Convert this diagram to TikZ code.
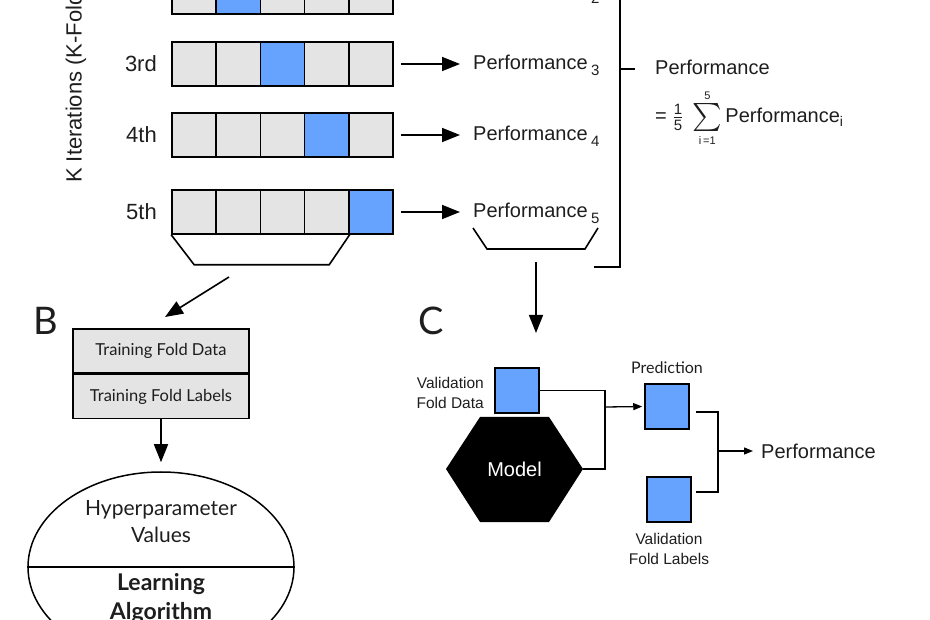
\documentclass[tikz,border=0pt]{standalone}
\usepackage{fontspec}
\usepackage{amsmath}
\setmainfont{Liberation Sans}
\newfontfamily\avenir{Lato}
\usetikzlibrary{arrows.meta,positioning,shapes.geometric}
\definecolor{foldblue}{RGB}{102,163,255}
\definecolor{foldgray}{RGB}{228,228,228}
\definecolor{ink}{RGB}{30,30,30}
\newcommand{\fracdigit}[1]{\text{\fontsize{15}{15}\selectfont #1}}
\newcommand{\limdigit}[1]{\text{\fontsize{11}{11}\selectfont #1}}

\begin{document}
\begin{tikzpicture}[x=1pt, y=-1pt,
  every node/.style = {text=ink},
  cell/.style = {draw, line width=1.6pt, fill=foldgray,
    minimum width=44.2pt, minimum height=44pt, inner sep=0pt},
  itlabel/.style = {font=\fontsize{22}{22}\selectfont, anchor=east, inner sep=0pt},
  perf/.style = {font=\fontsize{20}{24}\selectfont, anchor=base west, inner sep=0pt},
  bigarrow/.style = {line width=1.6pt, -{Triangle[length=18pt, width=14pt]}},
  smallarrow/.style = {line width=1.3pt, -{Triangle[length=9pt, width=7pt]}},
  foldbox/.style = {draw, line width=1.5pt, fill=foldgray, minimum width=176pt,
    minimum height=44pt, inner sep=0pt, font=\avenir\fontsize{16.5}{16.5}\selectfont},
  square/.style = {draw, line width=1.5pt, fill=foldblue,
    minimum width=44pt, minimum height=45pt, inner sep=0pt},
  small/.style = {font=\fontsize{15.5}{20}\selectfont, align=center, inner sep=0pt},
  panel/.style = {font=\avenir\fontsize{38}{38}\selectfont, inner sep=0pt}]
  \useasboundingbox (0,0) rectangle (930,620);
  \clip (0,0) rectangle (930,620);

  \foreach \r/\y/\lbl in {2/-8/2nd, 3/64/3rd, 4/135/4th, 5/212/5th} {
    \foreach \c in {1,...,5} {
      \pgfmathparse{\c==\r ? "foldblue" : "foldgray"}
      \edef\col{\pgfmathresult}
      \node[cell, fill=\col] (c\r\c) at ({194.1+44.2*(\c-1)}, \y) {};
    }
    \node[itlabel] (it\r) at (157, \y) {\lbl};
    \node[perf] (p\r) at (473, \y+6) {Performance\,\raisebox{-6pt}{\fontsize{15}{15}\selectfont\r}};
    \draw[bigarrow, shorten <=7pt, shorten >=13pt] (c\r5.east) -- (c\r5.east -| p\r.west);
  }
  \node[rotate=90, anchor=west, font=\fontsize{22}{22}\selectfont, inner sep=0pt] (kiter)
    at (76,183) {K Iterations (K-Folds)};

  \draw[line width=1.6pt] (c51.south west) -- ++(23,30) -- ++(135,0) -- (c54.south east);
  \coordinate (trainout) at (229,277);
  \draw[line width=1.6pt] ([yshift=-10pt]p5.base west) -- ++(14,21) -- ++(98,0) -- ++(13,-21);
  \coordinate (perfout) at (536,262);

  \draw[line width=1.6pt] (594,267) -- (620,267) -- (620,-60);
  \draw[line width=1.6pt] (620,69) -- (635,69);
  \node[perf] (avg) at (655,75) {Performance};
  \node[perf] (avgeq) at (655,123)
    {$\text{=}\;\frac{\fracdigit{1}}{\fracdigit{5}}\;
      \mathop{\vcenter{\hbox{\scalebox{1.35}{$\sum$}}}}\limits_{\limdigit{i\,=1}}^{\limdigit{5}}$\,Performance$_{\text{i}}$};

  \node[panel] (B) at (46,321) {B};
  \node[foldbox] (tdata) at (161,351) {Training Fold Data};
  \node[foldbox, below=0pt of tdata] (tlabels) {Training Fold Labels};
  \coordinate (trainin) at (165,317);
  \draw[bigarrow] (trainout) -- (trainin);
  \node[ellipse, draw, line width=1.5pt, minimum width=266pt, minimum height=190pt,
    inner sep=0pt] (alg) at (161,567) {};
  \draw[line width=1.5pt] (alg.west) -- (alg.east);
  \node[font=\avenir\fontsize{21}{27}\selectfont, align=center, inner sep=0pt] (hyper)
    at (161,522) {Hyperparameter\\Values};
  \node[font=\avenir\bfseries\fontsize{23}{29}\selectfont, align=center, inner sep=0pt] (learn)
    at (161,599) {Learning\\Algorithm};
  \draw[bigarrow, shorten >=9pt] (tlabels) -- (alg);

  \node[panel] (C) at (431,321) {C};
  \coordinate (valin) at (536,333);
  \draw[bigarrow] (perfout) -- (valin);
  \node[square] (vdata) at (517,390.5) {};
  \node[small, align=right, anchor=east] (vdatalbl) at (484,393) {Validation\\Fold Data};
  \coordinate (mc) at (514.5,469);
  \coordinate (mright) at (583,469);
  \fill[black] ([xshift=-68.5pt]mc) -- ++(34,-52) -- ++(69,0) -- ++(34,52)
    -- ++(-34,53) -- ++(-69,0) -- cycle;
  \node[font=\fontsize{20}{20}\selectfont, text=white, inner sep=0pt] (model) at (mc) {Model};
  \coordinate (join) at (605,407);
  \draw[line width=1.3pt] (vdata.east) -| (join) |- (mright);
  \node[square] (pred) at (667,406.5) {};
  \node[font=\avenir\fontsize{16}{16}\selectfont, inner sep=0pt, above=9pt of pred] (predlbl) {Prediction};
  \draw[smallarrow, shorten >=2pt] (join) -- (pred.west);
  \node[square] (vlabels) at (669,499.5) {};
  \node[small, below=10pt of vlabels] (vlabelslbl) {Validation\\Fold Labels};
  \coordinate (join2) at (718,451);
  \draw[line width=1.3pt] ([xshift=6pt,yshift=-5.5pt]pred.east) -| (join2)
    |- ([xshift=4pt,yshift=7.5pt]vlabels.east);
  \node[perf, anchor=west] (total) at (761,451) {Performance};
  \draw[smallarrow, shorten >=8pt] (join2) -- (total.west);
\end{tikzpicture}
\end{document}
